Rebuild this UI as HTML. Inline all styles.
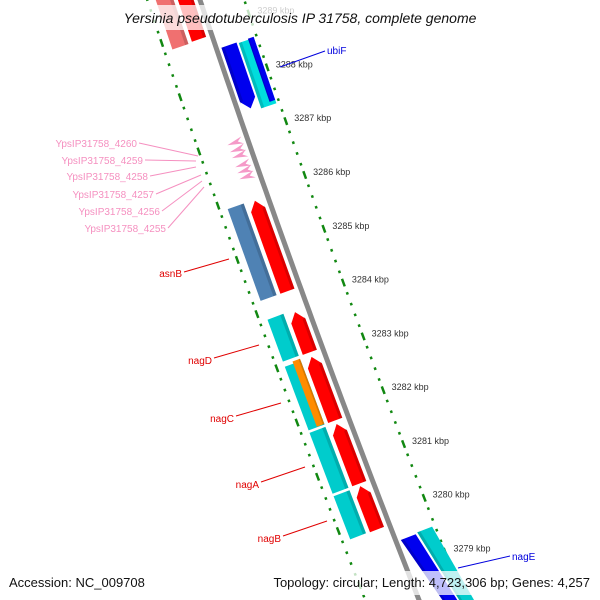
<!DOCTYPE html>
<html><head><meta charset="utf-8"><style>
html,body{margin:0;padding:0;background:#fff;overflow:hidden;width:600px;height:600px;}
svg{display:block;font-family:"Liberation Sans","DejaVu Sans",sans-serif;overflow:hidden;}
</style></head><body>
<svg id="map" width="600" height="600" viewBox="0 0 600 600" xmlns="http://www.w3.org/2000/svg">
<g id="ticks"></g>
<path id="backbone" fill="none" stroke="#888" stroke-width="5"></path>
<g id="genes"></g>
<g id="labels"></g>
<rect x="104" y="5" width="392" height="25" fill="#fff" opacity="0.75"/>
<text x="300" y="23" text-anchor="middle" font-size="14" font-style="italic" fill="#111">Yersinia pseudotuberculosis IP 31758, complete genome</text>
<rect x="4" y="571" width="146" height="24" fill="#fff" opacity="0.75"/>
<rect x="255" y="571" width="340" height="24" fill="#fff" opacity="0.75"/>
<text x="9" y="587" font-size="13" fill="#111">Accession: NC_009708</text>
<text x="590" y="587" text-anchor="end" font-size="13" fill="#111">Topology: circular; Length: 4,723,306 bp; Genes: 4,257</text>
</svg>
<script>
// data (kbp)
const geneNames=["top-red","top-coral","asnB-red","asnB","nagD-red","nagD","nagC-red","nagC","nagC-orange","nagA-red","nagA","nagB-red","nagB","ubiF","ubiF-cyan","ubiF-blue","nagE","nagE-cyan"];
const geneStart=[3289.8,3289.8,3285.88,3285.90,3283.82,3283.86,3282.99,3282.99,3283.03,3281.75,3281.77,3280.60,3280.60,3288.60,3288.58,3288.60,3279.48,3279.50];
const geneEnd=[3288.84,3288.82,3284.18,3284.18,3283.05,3283.06,3281.79,3281.79,3281.80,3280.62,3280.62,3279.77,3279.78,3287.40,3287.34,3287.40,3277.5,3277.5];
const geneRing=[-1,-2,-1,-2,-1,-2,-1,-2,-2.5,-1,-2,-1,-2,1,2,2.5,1,2];
const geneColor=["#ff0000","#f07070","#ff0000","#4f82b4","#ff0000","#00cccc","#ff0000","#00cccc","#ff8c00","#ff0000","#00cccc","#ff0000","#00cccc","#0000ee","#00dddd","#0000ee","#0000ee","#00cccc"];
const geneArrow=["none","none","up","none","up","none","up","none","none","up","none","up","none","down","none","none","none","none"];
const trnaPos=[3286.94,3286.81,3286.70,3286.53,3286.42,3286.31];
const trnaNames=["YpsIP31758_4260","YpsIP31758_4259","YpsIP31758_4258","YpsIP31758_4257","YpsIP31758_4256","YpsIP31758_4255"];
const tickStart=3278, tickEnd=3290;

const NS="http://www.w3.org/2000/svg";
function xb(y){return 200+0.335*y+0.00005*y*y;}
function bOf(k){return 81+(3288-k)*54;}
function P(b,d){const dx=0.335+0.0001*b;const L=Math.sqrt(1+dx*dx);return [xb(b)+d/L,b-d*dx/L];}
function T(b){const dx=0.335+0.0001*b;const L=Math.sqrt(1+dx*dx);return [dx/L,1/L];}
function mk(tag,attrs,parent){const e=document.createElementNS(NS,tag);for(const k in attrs)e.setAttribute(k,attrs[k]);parent.appendChild(e);return e;}

let d="";for(let y=-20;y<=620;y+=10){const p=P(y,0);d+=(y===-20?"M":"L")+p[0].toFixed(1)+","+p[1].toFixed(1);}
document.getElementById('backbone').setAttribute('d',d);

const tg=document.getElementById('ticks');
for(let i=0;i<=(tickEnd-tickStart)*5;i++){
  const k=tickStart+i*0.2;const b=bOf(k);const major=(i%5===0);
  [-50,42].forEach(off=>{
    const p=P(b,off),t=T(b);const h=major?4:1.3;
    if(p[1]>598||p[1]<-2)return;
    const ln=mk('line',{x1:p[0]-t[0]*h,y1:p[1]-t[1]*h,x2:p[0]+t[0]*h,y2:p[1]+t[1]*h,stroke:'#118811','stroke-width':2.5},tg);
    
    
  });
  if(major){const p=P(b,51);if(p[1]<590&&p[1]>0){const tx=mk('text',{x:p[0],y:p[1]+3,'font-size':9,fill:'#333'},tg);tx.textContent=Math.round(k)+" kbp";
    
    }}
}

const gg=document.getElementById('genes');
const rings={"-1":[-6,-21],"-2":[-25,-42],"-2.5":[-25,-33],"1":[5,21],"2":[23,39],"2.5":[33,39]};
function poly(pts,fill,parent){return mk('polygon',{points:pts.map(p=>p[0].toFixed(1)+","+Math.min(600,p[1]).toFixed(1)).join(" "),fill:fill},parent);}
for(let i=0;i<geneNames.length;i++){
  const b1=bOf(geneStart[i])+0.7,b2=bOf(geneEnd[i])-0.7;const r=rings[String(geneRing[i])];const d0=r[0],d1=r[1],dm=(d0+d1)/2;const h=9;
  let pts;
  if(geneArrow[i]==="up")pts=[P(b1,dm),P(b1+h,d0),P(b2,d0),P(b2,d1),P(b1+h,d1)];
  else if(geneArrow[i]==="down")pts=[P(b1,d0),P(b2-h,d0),P(b2,dm),P(b2-h,d1),P(b1,d1)];
  else pts=[P(b1,d0),P(b2,d0),P(b2,d1),P(b1,d1)];
  const g=mk('g',{},gg);
  
  
  poly(pts,geneColor[i],g);
  const ds=d0+(d1-d0)*0.2;
  const sh=poly([P(b1+(geneArrow[i]==="up"?h*0.8:0),d0),P(b2-(geneArrow[i]==="down"?h*0.8:0),d0),P(b2-(geneArrow[i]==="down"?h:0),ds),P(b1+(geneArrow[i]==="up"?h:0),ds)],'#000',g);
  sh.setAttribute('opacity','0.15');
}
trnaPos.forEach((k,i)=>{
  const b=bOf(k);const p1=P(b,-21),p2=P(b-3.5,-5),p3=P(b+3.5,-5),p4=P(b,-10);
  const pg=poly([p1,p2,p4,p3],'#f59ac8',gg);
  
  
});

const lg=document.getElementById('labels');
function label(txt,tx,ty,anchor,col,x1,y1,x2,y2,name){
  const l=mk('line',{x1:x1,y1:y1,x2:x2,y2:y2,stroke:col,'stroke-width':1},lg);
  
  
  const t=mk('text',{x:tx,y:ty,'text-anchor':anchor,'font-size':10,fill:col},lg);t.textContent=txt;
  
  
}
label("asnB",182,277,"end","#e00000",184,272,229,259,"asnB");
label("nagD",212,364,"end","#e00000",214,358,259,345,"nagD");
label("nagC",234,422,"end","#e00000",236,416,281,403,"nagC");
label("nagA",259,488,"end","#e00000",261,482,305,467,"nagA");
label("nagB",281,542,"end","#e00000",283,536,327,521,"nagB");
label("ubiF",327,54,"start","#0000dd",280,67,325,51,"ubiF");
label("nagE",512,560,"start","#0000dd",458,568,510,556,"nagE");
const ty=[143,160,176,194,211,228];const txr=[137,143,148,154,160,166];const ex=[[198,156],[196,161],[196,167],[201,175],[202,181],[204,187]];
trnaNames.forEach((n,i)=>{label(n,txr[i],ty[i]+4,"end","#f590c0",txr[i]+2,ty[i],ex[i][0],ex[i][1],"trna-"+(4260-i));});
</script>
</body></html>
